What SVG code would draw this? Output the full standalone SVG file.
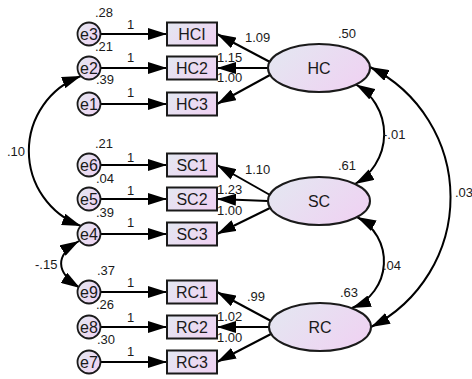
<svg xmlns="http://www.w3.org/2000/svg" width="472" height="379" viewBox="0 0 472 379">
<defs>
<linearGradient id="g" x1="0" y1="0" x2="1" y2="0.5">
<stop offset="0" stop-color="#e3e8f1"/>
<stop offset="1" stop-color="#eed4f2"/>
</linearGradient>
<marker id="ah" markerUnits="userSpaceOnUse" markerWidth="19" markerHeight="12" refX="19" refY="6" orient="auto-start-reverse">
<path d="M0,0 L19,6 L0,12 z" fill="#000"/>
</marker>
<style>
.box{fill:url(#g);stroke:#1a1a1a;stroke-width:2}
.lat{fill:url(#g);stroke:#1a1a1a;stroke-width:2}
.err{fill:url(#g);stroke:#1a1a1a;stroke-width:1.8}
.t{font-family:"Liberation Sans",Arial,sans-serif;fill:#1a1a1a}
.bt{font-size:16px;text-anchor:middle}
.et{font-size:16px;text-anchor:middle}
.n{font-size:13px}
.c path{fill:none;stroke:#000;stroke-width:2}
.a{marker-end:url(#ah)}
.b{marker-start:url(#ah);marker-end:url(#ah)}
</style>
</defs>
<rect width="472" height="379" fill="#fff"/>
<g class="c" id="connectors">
<path class="a" d="M100.5,34 L167,34"/>
<path class="a" d="M100.5,68 L167,68"/>
<path class="a" d="M100.5,104 L167,104"/>
<path class="a" d="M100.5,165 L167,165"/>
<path class="a" d="M100.5,199 L167,199"/>
<path class="a" d="M100.5,234 L167,234"/>
<path class="a" d="M100.5,292 L167,292"/>
<path class="a" d="M100.5,327 L167,327"/>
<path class="a" d="M100.5,362 L167,362"/>
<path class="a" d="M270,62 L217,34"/>
<path class="a" d="M268,68 L217,68"/>
<path class="a" d="M270,75 L217,104"/>
<path class="a" d="M270,195 L217,165"/>
<path class="a" d="M268,201 L217,199"/>
<path class="a" d="M270,208 L217,234"/>
<path class="a" d="M271,321 L217,292"/>
<path class="a" d="M269,327 L217,327"/>
<path class="a" d="M271,334 L217,362"/>
<path class="b" d="M356,84.5 A57.5,57.5 0 0 1 355,184"/>
<path class="b" d="M357,217 A50,50 0 0 1 352,308"/>
<path class="b" d="M370,67 A145.6,145.6 0 0 1 371,327"/>
<path class="b" d="M81,76 A80,80 0 0 0 81,226"/>
<path class="b" d="M79,241 C55,255 55,272 80,288"/>
</g>
<g class="t n" id="labels">
<text x="95" y="16.5">.28</text>
<text x="95" y="50.5">.21</text>
<text x="96" y="84">.39</text>
<text x="95" y="148">.21</text>
<text x="96" y="182.5">.04</text>
<text x="96" y="217">.39</text>
<text x="97" y="275">.37</text>
<text x="96" y="309">.26</text>
<text x="97" y="344">.30</text>
<text x="127" y="28.5">1</text>
<text x="127" y="62">1</text>
<text x="127" y="97">1</text>
<text x="127" y="162">1</text>
<text x="127" y="195">1</text>
<text x="127" y="227">1</text>
<text x="127" y="287">1</text>
<text x="127" y="322">1</text>
<text x="127" y="356">1</text>
<text x="245" y="41.5">1.09</text>
<text x="217" y="62">1.15</text>
<text x="217" y="82">1.00</text>
<text x="245" y="173.5">1.10</text>
<text x="217" y="194">1.23</text>
<text x="217" y="215">1.00</text>
<text x="247" y="300.5">.99</text>
<text x="217" y="321">1.02</text>
<text x="217" y="341.5">1.00</text>
<text x="338" y="37.5">.50</text>
<text x="338" y="170">.61</text>
<text x="340" y="297">.63</text>
<text x="383" y="139">-.01</text>
<text x="383" y="270">.04</text>
<text x="455" y="197">.03</text>
<text x="7" y="156">.10</text>
<text x="35" y="269">-.15</text>
</g>
<g id="e3"><circle class="err" cx="89" cy="34" r="11.5"/><text class="t et" x="89" y="39.5">e3</text></g>
<g id="e2"><circle class="err" cx="89" cy="68" r="11.5"/><text class="t et" x="89" y="73.5">e2</text></g>
<g id="e1"><circle class="err" cx="89" cy="104" r="11.5"/><text class="t et" x="89" y="109.5">e1</text></g>
<g id="e6"><circle class="err" cx="89" cy="165" r="11.5"/><text class="t et" x="89" y="170.5">e6</text></g>
<g id="e5"><circle class="err" cx="89" cy="199" r="11.5"/><text class="t et" x="89" y="204.5">e5</text></g>
<g id="e4"><circle class="err" cx="89" cy="234" r="11.5"/><text class="t et" x="89" y="239.5">e4</text></g>
<g id="e9"><circle class="err" cx="89" cy="292" r="11.5"/><text class="t et" x="89" y="297.5">e9</text></g>
<g id="e8"><circle class="err" cx="89" cy="327" r="11.5"/><text class="t et" x="89" y="332.5">e8</text></g>
<g id="e7"><circle class="err" cx="89" cy="362" r="11.5"/><text class="t et" x="89" y="367.5">e7</text></g>
<g id="HCI"><rect class="box" x="167" y="22.5" width="50" height="23"/><text class="t bt" x="192" y="40">HCI</text></g>
<g id="HC2"><rect class="box" x="167" y="56.5" width="50" height="23"/><text class="t bt" x="192" y="74">HC2</text></g>
<g id="HC3"><rect class="box" x="167" y="92.5" width="50" height="23"/><text class="t bt" x="192" y="110">HC3</text></g>
<g id="SC1"><rect class="box" x="167" y="153.5" width="50" height="23"/><text class="t bt" x="192" y="171">SC1</text></g>
<g id="SC2"><rect class="box" x="167" y="187.5" width="50" height="23"/><text class="t bt" x="192" y="205">SC2</text></g>
<g id="SC3"><rect class="box" x="167" y="222.5" width="50" height="23"/><text class="t bt" x="192" y="240">SC3</text></g>
<g id="RC1"><rect class="box" x="167" y="280.5" width="50" height="23"/><text class="t bt" x="192" y="298">RC1</text></g>
<g id="RC2"><rect class="box" x="167" y="315.5" width="50" height="23"/><text class="t bt" x="192" y="333">RC2</text></g>
<g id="RC3"><rect class="box" x="167" y="350.5" width="50" height="23"/><text class="t bt" x="192" y="368">RC3</text></g>
<g id="HC"><ellipse class="lat" cx="319" cy="68" rx="51" ry="24"/><text class="t bt" x="319" y="74">HC</text></g>
<g id="SC"><ellipse class="lat" cx="319" cy="201" rx="51" ry="24"/><text class="t bt" x="319" y="207">SC</text></g>
<g id="RC"><ellipse class="lat" cx="320" cy="327" rx="51" ry="24"/><text class="t bt" x="320" y="333">RC</text></g>
</svg>
